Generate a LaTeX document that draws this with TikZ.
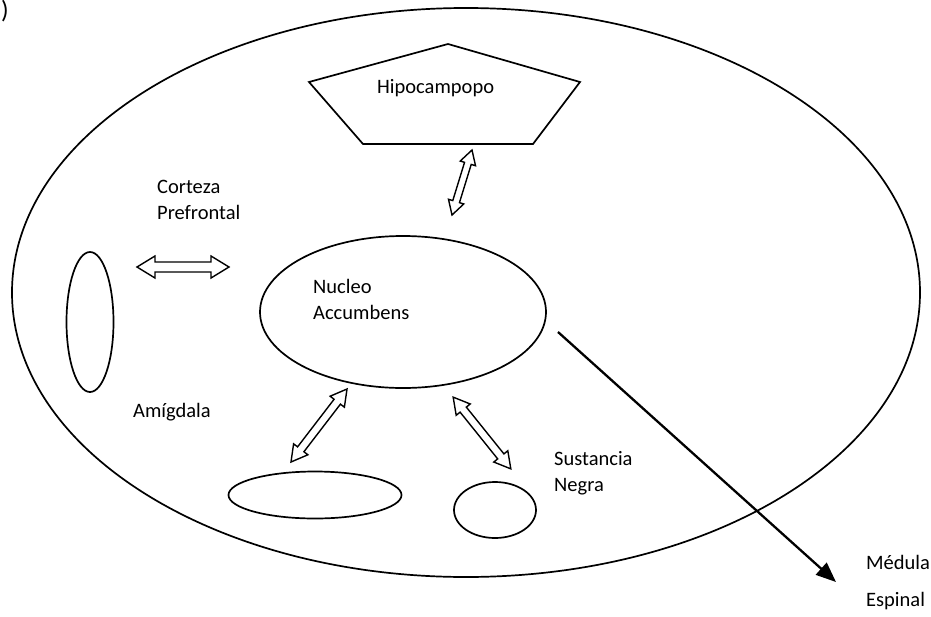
\documentclass[tikz,border=0pt]{standalone}
\usepackage{fontspec}
\setmainfont{Carlito}
\usetikzlibrary{shapes.geometric,arrows.meta}
\newcommand\DArrow[7]{\begin{scope}[shift={(#1,#2)},rotate=#3]
\draw[dblarr] (-#4,0) -- (-#4+#5,#6) -- (-#4+#5,#7) -- (#4-#5,#7) -- (#4-#5,#6) -- (#4,0)
 -- (#4-#5,-#6) -- (#4-#5,-#7) -- (-#4+#5,-#7) -- (-#4+#5,-#6) -- cycle;
\end{scope}}
\begin{document}
\begin{tikzpicture}[x=1pt,y=-1pt,
  outl/.style={draw,line width=1.7pt,inner sep=0pt},
  dblarr/.style={line width=1.4pt,line join=miter,fill=white},
  lbl/.style={anchor=base west,inner sep=0pt,font=\fontsize{20.5}{25}\selectfont}]
\useasboundingbox (0,0) rectangle (931,616);
\node[lbl,font=\fontsize{25}{30}\selectfont] (paren) at (1,18) {)};
% brain outline
\node[outl,ellipse,minimum width=908pt,minimum height=569pt] (brain) at (466,292.5) {};
% hippocampus pentagon
\coordinate (pt) at (448,44);
\coordinate (pr) at (580,82);
\coordinate (pbr) at (533,144);
\coordinate (pbl) at (363,144);
\coordinate (pl) at (309,82);
\draw[line width=1.7pt,line join=miter] (pt) -- (pr) -- (pbr) -- (pbl) -- (pl) -- cycle;
\node[lbl] (hipo) at (377,93) {Hipocampopo};
% prefrontal cortex
\node[outl,ellipse,minimum width=47pt,minimum height=140pt] (pref) at (90,322) {};
\node[lbl] (cort1) at (157,193) {Corteza};
\node[lbl] (cort2) at (157,219) {Prefrontal};
% nucleus accumbens
\node[outl,ellipse,minimum width=286pt,minimum height=152pt] (nacc) at (403,312) {};
\node[lbl] (nuc1) at (313,293) {Nucleo};
\node[lbl] (nuc2) at (313,319) {Accumbens};
% amygdala
\node[lbl] (amig) at (133,417) {Amígdala};
\node[outl,ellipse,minimum width=173pt,minimum height=47pt] (amy) at (315,495) {};
% substantia nigra
\node[outl,ellipse,minimum width=82pt,minimum height=56pt] (sn) at (495,510) {};
\node[lbl] (sus1) at (554,465) {Sustancia};
\node[lbl] (sus2) at (554,491) {Negra};
% double arrows
\DArrow{462}{182.5}{72.9}{34}{14}{8}{3.5}
\DArrow{183}{267}{0}{46}{18}{11}{5}
\DArrow{319}{425.5}{52.5}{46}{16}{9}{4}
\DArrow{482}{433}{-51.2}{46}{16}{9}{4}
% spinal cord arrow
\coordinate (ms) at (558,332);
\coordinate (me) at (836,582);
\draw[line width=2.3pt,-{Triangle[length=20pt,width=16pt]}] (ms) -- (me);
\node[lbl] (med1) at (866,569) {Médula};
\node[lbl] (med2) at (866,606) {Espinal};
\end{tikzpicture}
\end{document}
